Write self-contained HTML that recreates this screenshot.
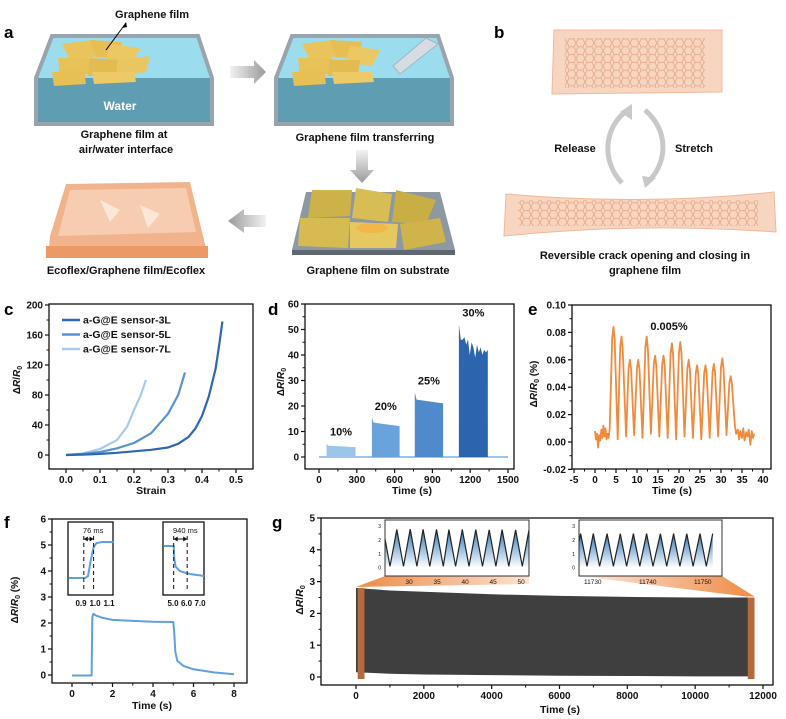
<!DOCTYPE html>
<html><head><meta charset="utf-8">
<style>
html,body{margin:0;padding:0;background:#fff;}
svg{display:block;font-family:"Liberation Sans",Arial,sans-serif;}
.cap{font-size:11px;font-weight:bold;fill:#111;}
.pl{font-size:17px;font-weight:bold;fill:#000;}
</style></head>
<body>
<svg id="fig" width="786" height="719" viewBox="0 0 786 719" xmlns="http://www.w3.org/2000/svg">
<defs>
<pattern id="hex" width="9" height="7.8" patternUnits="userSpaceOnUse">
<path d="M0,3.9 L2.25,0 L6.75,0 L9,3.9 L6.75,7.8 L2.25,7.8 Z" fill="none" stroke="#e2a17c" stroke-width="0.7"/>
</pattern>
<linearGradient id="triFill" x1="0" y1="0" x2="0" y2="1"><stop offset="0" stop-color="#2f78bd"/><stop offset="1" stop-color="#ffffff"/></linearGradient>
<linearGradient id="wedgeL" x1="0" y1="0" x2="1" y2="0"><stop offset="0" stop-color="#ef8a45"/><stop offset="1" stop-color="#fbe3d2"/></linearGradient>
<linearGradient id="wedgeR" x1="0" y1="0" x2="1" y2="0"><stop offset="0" stop-color="#fde9dc"/><stop offset="1" stop-color="#ef8a45"/></linearGradient>
<linearGradient id="arrG" x1="0" y1="0" x2="1" y2="0"><stop offset="0" stop-color="#f2f2f2"/><stop offset="1" stop-color="#9a9a9a"/></linearGradient>
<linearGradient id="arrGL" x1="1" y1="0" x2="0" y2="0"><stop offset="0" stop-color="#f2f2f2"/><stop offset="1" stop-color="#9a9a9a"/></linearGradient>
<linearGradient id="arrGD" x1="0" y1="0" x2="0" y2="1"><stop offset="0" stop-color="#f2f2f2"/><stop offset="1" stop-color="#9a9a9a"/></linearGradient>
<clipPath id="clipIn1"><rect x="385" y="520" width="144" height="56"/></clipPath>
<clipPath id="clipIn2"><rect x="579" y="520" width="143" height="56"/></clipPath>
</defs>

<g>
<text class="pl" x="4" y="38">a</text>
<g>
<polygon points="52,36 198,36 212,78 36,78" fill="#9bdcef"/>
<rect x="36" y="78" width="176" height="46" fill="#5f9db3"/>
<polygon points="52,36 198,36 212,78 212,124 36,124 36,78" fill="none" stroke="#9aa4ad" stroke-width="4"/>
<polygon points="62,44 92,40 100,56 70,60" fill="#e9c45c"/>
<polygon points="90,40 122,42 118,58 96,57" fill="#e6be52"/>
<polygon points="110,44 140,48 132,64 106,60" fill="#ecc862"/>
<polygon points="58,58 92,58 94,74 60,76" fill="#e8c159"/>
<polygon points="90,58 120,60 118,76 88,76" fill="#e3bb50"/>
<polygon points="118,60 150,56 146,72 116,76" fill="#eac662"/>
<polygon points="52,72 84,70 86,84 54,86" fill="#e6bf55"/>
<polygon points="92,72 134,72 136,82 94,84" fill="#edca66"/>
<text x="120" y="110" text-anchor="middle" font-size="12" font-weight="bold" fill="#fff">Water</text>
</g>
<text class="cap" x="152" y="18" text-anchor="middle">Graphene film</text>
<line x1="126" y1="23" x2="106" y2="50" stroke="#000" stroke-width="1"/>
<polygon points="126,22 122,28 127,27" fill="#000"/>
<text class="cap" x="124" y="138" text-anchor="middle">Graphene film at</text>
<text class="cap" x="126" y="153" text-anchor="middle">air/water interface</text>

<polygon points="230,66 254,66 254,60 266,72 254,84 254,78 230,78" fill="url(#arrG)"/>

<g>
<polygon points="292,36 438,36 452,78 276,78" fill="#9bdcef"/>
<rect x="276" y="78" width="176" height="46" fill="#5f9db3"/>
<polygon points="292,36 438,36 452,78 452,124 276,124 276,78" fill="none" stroke="#9aa4ad" stroke-width="4"/>
<polygon points="302,44 332,40 340,56 310,60" fill="#e9c45c"/>
<polygon points="330,40 362,42 358,58 336,57" fill="#e6be52"/>
<polygon points="350,46 380,50 372,66 346,62" fill="#ecc862"/>
<polygon points="298,58 332,58 334,74 300,76" fill="#e8c159"/>
<polygon points="330,60 360,60 358,76 328,76" fill="#e3bb50"/>
<polygon points="292,72 324,70 326,84 294,86" fill="#e6bf55"/>
<polygon points="332,72 372,72 374,82 334,84" fill="#edca66"/>
<polygon points="393,66 426,38 438,44 400,74" fill="#d3dde3" stroke="#a8b4bc" stroke-width="1"/>
</g>
<text class="cap" x="365" y="141" text-anchor="middle">Graphene film transferring</text>

<polygon points="356,150 368,150 368,170 374,170 362,183 350,170 356,170" fill="url(#arrGD)"/>

<g>
<polygon points="306,192 440,192 455,250 292,250" fill="#8e98a3"/>
<rect x="292" y="250" width="163" height="5" fill="#5f6872"/>
<polygon points="312,190 352,190 350,216 308,218" fill="#cdb24a"/>
<polygon points="356,188 392,194 388,222 352,218" fill="#d8bd55"/>
<polygon points="396,190 436,200 426,224 392,222" fill="#c9ad45"/>
<polygon points="300,218 350,218 348,248 298,246" fill="#d6bb52"/>
<polygon points="350,222 398,224 396,248 350,248" fill="#e6c860"/>
<polygon points="400,224 440,218 446,242 404,250" fill="#cfb34b"/>
<ellipse cx="372" cy="228" rx="16" ry="5" fill="#f5b040" opacity="0.7"/>
</g>
<text class="cap" x="378" y="274" text-anchor="middle">Graphene film on substrate</text>

<polygon points="266,215 244,215 244,209 228,221 244,233 244,227 266,227" fill="url(#arrGL)"/>

<g>
<polygon points="66,184 190,182 202,232 208,256 48,258 50,236" fill="#f1b38b"/>
<polygon points="70,190 186,188 196,232 58,236" fill="#f6cdb0"/>
<rect x="46" y="246" width="162" height="12" fill="#eb9a66"/>
<polygon points="100,200 120,210 110,222" fill="#fbe6d8"/>
<polygon points="140,205 160,214 148,228" fill="#fbe6d8"/>
</g>
<text class="cap" x="126" y="274" text-anchor="middle">Ecoflex/Graphene film/Ecoflex</text>
</g>

<g>
<text class="pl" x="494" y="38">b</text>
<polygon points="554,30 722,30 722,92 552,94" fill="#f8d5c1" stroke="#f0b898" stroke-width="1"/>
<rect x="565" y="38" width="140" height="50" fill="url(#hex)"/>
<path d="M622,183 C600,160 605,125 628,110" fill="none" stroke="#c8c8c8" stroke-width="5"/>
<polygon points="620,112 632,104 632,120" fill="#c8c8c8"/>
<path d="M645,110 C668,130 668,160 650,180" fill="none" stroke="#c8c8c8" stroke-width="5"/>
<polygon points="642,176 656,178 645,188" fill="#c8c8c8"/>
<text class="cap" x="575" y="152" text-anchor="middle">Release</text>
<text class="cap" x="694" y="152" text-anchor="middle">Stretch</text>
<path d="M506,194 Q640,206 774,192 L776,232 Q640,222 504,236 Z" fill="#f8d5c1" stroke="#f0b898" stroke-width="1"/>
<rect x="518" y="200" width="240" height="26" fill="url(#hex)"/>
<text class="cap" x="645" y="259" text-anchor="middle">Reversible crack opening and closing in</text>
<text class="cap" x="645" y="274" text-anchor="middle">graphene film</text>
</g>

<text class="pl" x="4" y="315">c</text>
<text class="pl" x="268" y="315">d</text>
<text class="pl" x="528" y="315">e</text>
<text class="pl" x="4" y="528">f</text>
<text class="pl" x="272" y="528">g</text>
<g id="charts"></g>
</svg>

<script>
// panel c
const cStrain3 = [0,0.05,0.1,0.15,0.2,0.25,0.3,0.33,0.36,0.38,0.4,0.42,0.44,0.45,0.46];
const cVal3    = [0,0.5,1.5,3,5,7,10,15,24,35,52,78,115,145,178];
const cStrain5 = [0,0.05,0.1,0.15,0.2,0.25,0.3,0.33,0.35];
const cVal5    = [0,1.5,4,9,16,29,55,80,110];
const cStrain7 = [0,0.05,0.1,0.15,0.18,0.2,0.22,0.235];
const cVal7    = [0,2,8,20,38,60,80,100];
const cLegend  = ["a-G@E sensor-3L","a-G@E sensor-5L","a-G@E sensor-7L"];
const cXTicks  = [0,0.1,0.2,0.3,0.4,0.5];
const cXLabels = ["0.0","0.1","0.2","0.3","0.4","0.5"];
const cYTicks  = [0,40,80,120,160,200];
// panel d
const dLabels  = ["10%","20%","25%","30%"];
const dStart   = [60,420,760,1110];
const dEnd     = [290,640,985,1340];
const dPeak    = [5.2,15.3,25.3,52];
const dPlateau = [4.4,13.5,22.5,46];
const dFinal   = [3.9,12.1,21,42];
const dJag30   = [46,47,44,46,40,45,43,39,44,41,43,40,42,41];
const dXTicks  = [0,300,600,900,1200,1500];
const dYTicks  = [0,10,20,30,40,50,60];
// panel e
const ePeakT   = [4.4,6.3,8.3,10.3,12.3,14.3,16.3,18.3,20.3,22.3,24.3,26.3,28.3,30.3,32.3];
const ePeakV   = [0.084,0.077,0.060,0.060,0.077,0.063,0.063,0.072,0.073,0.060,0.056,0.056,0.057,0.061,0.048];
const eValleyT = [5.4,7.4,9.3,11.3,13.3,15.3,17.3,19.3,21.3,23.3,25.3,27.3,29.3,31.3];
const eValleyV = [0.002,0.004,0.005,0.003,0.006,0.004,0.003,0.002,0.004,0.003,0.002,0.003,0.004,0.005];
const eNoiseBeforeT = [0,0.25,0.5,0.75,1,1.25,1.5,1.75,2,2.25,2.5,2.75,3,3.25,3.5];
const eNoiseBeforeV = [0.008,0.002,0.006,-0.004,0.005,0.001,0.009,0.003,0.012,0.004,0.010,0.002,0.006,0.003,0.010];
const eNoiseAfterT  = [33.3,33.6,34,34.3,34.6,35,35.3,35.6,36,36.3,36.6,37,37.3,37.6,37.9];
const eNoiseAfterV  = [0.012,0.006,0.009,0.002,0.008,0.003,0.010,0.001,0.007,0.004,0.009,-0.002,0.008,0.003,0.006];
const eXTicks = [-5,0,5,10,15,20,25,30,35,40];
const eYTicks = [-0.02,0,0.02,0.04,0.06,0.08,0.10];
const eYLabels = ["-0.02","0.00","0.02","0.04","0.06","0.08","0.10"];
// panel f
const fT = [0,0.97,1.0,1.05,1.2,1.5,2,3,4,5,5.05,5.1,5.2,5.5,6,7,8];
const fV = [-0.02,-0.02,2.2,2.35,2.28,2.2,2.12,2.08,2.05,2.04,1.6,0.9,0.55,0.35,0.22,0.1,0.03];
const fIn1T = [0.81,0.93,0.95,0.97,0.99,1.01,1.05,1.13];
const fIn1V = [0,0,0.05,0.5,0.85,0.97,1,1];
const fIn2T = [4.28,5.05,5.1,5.2,5.5,6,6.5,7,7.3];
const fIn2V = [1,1,0.6,0.35,0.22,0.15,0.11,0.08,0.06];
const fXTicks = [0,2,4,6,8];
const fYTicks = [0,1,2,3,4,5,6];
// panel g
const gTimes  = [0,1000,2000,4000,6000,8000,10000,11750];
const gTop    = [2.8,2.72,2.68,2.6,2.55,2.52,2.5,2.5];
const gBottom = [0.15,0.1,0.08,0.06,0.04,0.03,0.02,0.02];
const gXTicks = [0,2000,4000,6000,8000,10000,12000];
const gYTicks = [0,1,2,3,4,5];
const gIn1PeakT = [27.8,30.2,32.5,34.9,37.1,39.5,41.9,44.3,46.6,49.0];
const gIn1PeakV = [2.75,2.78,2.76,2.75,2.74,2.75,2.74,2.73,2.74,2.73];
const gIn2PeakT = [11727.8,11730.1,11732.6,11735,11737.4,11739.8,11742.3,11744.7,11747.1,11749.5];
const gIn2PeakV = [2.45,2.46,2.45,2.44,2.45,2.45,2.44,2.45,2.44,2.45];
const gIn1Ticks = [30,35,40,45,50];
const gIn2Ticks = [11730,11740,11750];

const NS = 'http://www.w3.org/2000/svg';
const root = document.getElementById('charts');
function mk(tag, attrs, name, parent) {
  const el = document.createElementNS(NS, tag);
  for (const k in attrs) el.setAttribute(k, attrs[k]);
  
  
  (parent || root).appendChild(el);
  return el;
}
function txt(x, y, s, size, anchor, name, parent, extra) {
  const el = mk('text', Object.assign({x: x, y: y, 'font-size': size, 'font-weight': 'bold', 'text-anchor': anchor, fill: '#111'}, extra || {}), name, parent);
  el.textContent = s;
  return el;
}
function lin(d0, d1, p0, p1) { return v => p0 + (v - d0) * (p1 - p0) / (d1 - d0); }
function pts(xs, ys, sx, sy) { return xs.map((t, i) => sx(t).toFixed(1) + ',' + sy(ys[i]).toFixed(1)).join(' '); }
function frame(x0, y0, x1, y1, g, w) {
  mk('rect', {x: x0, y: y0, width: x1 - x0, height: y1 - y0, fill: 'none', stroke: '#111', 'stroke-width': w || 1.3}, 'plot-frame', g);
}
function xAxis(ticks, labels, sx, yb, g, size, minor) {
  ticks.forEach((t, i) => {
    mk('line', {x1: sx(t), x2: sx(t), y1: yb, y2: yb + 4, stroke: '#111', 'stroke-width': 1.2}, 'x-tick', g);
    txt(sx(t), yb + 14, labels[i], size || 10, 'middle', 'x-tick-label', g);
    if (minor && i < ticks.length - 1) {
      const m = (t + ticks[i + 1]) / 2;
      mk('line', {x1: sx(m), x2: sx(m), y1: yb, y2: yb + 2.5, stroke: '#111', 'stroke-width': 1}, 'x-minor-tick', g);
    }
  });
}
function yAxis(ticks, labels, sy, xl, g, size, minor) {
  ticks.forEach((t, i) => {
    mk('line', {x1: xl - 4, x2: xl, y1: sy(t), y2: sy(t), stroke: '#111', 'stroke-width': 1.2}, 'y-tick', g);
    txt(xl - 6, sy(t) + 3.5, labels[i], size || 10, 'end', 'y-tick-label', g);
    if (minor && i < ticks.length - 1) {
      const m = (t + ticks[i + 1]) / 2;
      mk('line', {x1: xl - 2.5, x2: xl, y1: sy(m), y2: sy(m), stroke: '#111', 'stroke-width': 1}, 'y-minor-tick', g);
    }
  });
}
function yTitle(x, y, pct, g, size) {
  const el = mk('text', {x: 0, y: 0, transform: 'translate(' + x + ',' + y + ') rotate(-90)', 'font-size': size || 10, 'font-weight': 'bold', 'text-anchor': 'middle', fill: '#111'}, 'y-axis-title', g);
  el.innerHTML = 'Δ<tspan font-style="italic">R</tspan>/<tspan font-style="italic">R</tspan><tspan font-size="7" dy="2">0</tspan>' + (pct ? '<tspan dy="-2"> (%)</tspan>' : '');
  return el;
}
function dblArrow(x1, x2, y, g) {
  mk('line', {x1: x1 + 3, x2: x2 - 3, y1: y, y2: y, stroke: '#111', 'stroke-width': 1}, 'interval-arrow', g);
  mk('polygon', {points: x1 + ',' + y + ' ' + (x1 + 4) + ',' + (y - 2.5) + ' ' + (x1 + 4) + ',' + (y + 2.5), fill: '#111'}, 'arrowhead', g);
  mk('polygon', {points: x2 + ',' + y + ' ' + (x2 - 4) + ',' + (y - 2.5) + ' ' + (x2 - 4) + ',' + (y + 2.5), fill: '#111'}, 'arrowhead', g);
}

// panel c
(function () {
  const g = mk('g', {}, 'chart-c');
  const sx = lin(0, 0.5, 66, 236), sy = lin(0, 200, 455, 305);
  frame(49, 304, 253, 469, g);
  xAxis(cXTicks, cXLabels, sx, 469, g, 10, true);
  yAxis(cYTicks, cYTicks.map(String), sy, 49, g, 10, true);
  txt(151, 494, 'Strain', 10.5, 'middle', 'x-axis-title', g);
  yTitle(20, 380, false, g);
  const cols = ['#2d68b4', '#5893cf', '#a7cbea'];
  [[cStrain7, cVal7, 2], [cStrain5, cVal5, 1], [cStrain3, cVal3, 0]].forEach(s => {
    mk('polyline', {points: pts(s[0], s[1], sx, sy), fill: 'none', stroke: cols[s[2]], 'stroke-width': 2.2, 'stroke-linejoin': 'round'}, 'series-' + ['3L', '5L', '7L'][s[2]], g);
  });
  cLegend.forEach((l, i) => {
    const y = 320 + i * 14.5;
    mk('line', {x1: 62, x2: 80, y1: y, y2: y, stroke: cols[i], 'stroke-width': 2.5}, 'legend-swatch', g);
    txt(83, y + 3.5, l, 10.5, 'start', 'legend-entry', g);
  });
})();

// panel d
(function () {
  const g = mk('g', {}, 'chart-d');
  const sx = lin(0, 1500, 319, 508), sy = lin(0, 60, 457, 304);
  frame(305, 304, 514, 469, g);
  xAxis(dXTicks, dXTicks.map(String), sx, 469, g, 10, true);
  yAxis(dYTicks, dYTicks.map(String), sy, 305, g, 10, true);
  txt(412, 494, 'Time (s)', 10.5, 'middle', 'x-axis-title', g);
  yTitle(284, 382, false, g);
  mk('line', {x1: sx(0), x2: sx(1500), y1: sy(0), y2: sy(0), stroke: '#9cc5ea', 'stroke-width': 2}, 'baseline', g);
  const cols = ['#9cc5ea', '#6aa3db', '#4f8acb', '#2c64ad'];
  dStart.forEach((s, i) => {
    const e = dEnd[i];
    let top = [[s, dPeak[i]], [s + 15, dPlateau[i]]];
    if (i === 3) {
      dJag30.forEach((v, k) => { top.push([s + 15 + (k + 1) * (e - s - 15) / (dJag30.length + 1), v]); });
    }
    top.push([e, dFinal[i]]);
    let p = sx(s) + ',' + sy(0) + ' ' + top.map(q => sx(q[0]).toFixed(1) + ',' + sy(q[1]).toFixed(1)).join(' ') + ' ' + sx(e) + ',' + sy(0);
    mk('polygon', {points: p, fill: cols[i]}, 'block-' + dLabels[i], g);
    const lx = (sx(s) + sx(e)) / 2;
    txt(lx, sy(dPeak[i]) - 8, dLabels[i], 11, 'middle', 'strain-label', g);
  });
})();

// panel e
(function () {
  const g = mk('g', {}, 'chart-e');
  const sx = lin(-5, 40, 574, 763), sy = lin(0, 0.1, 442, 305);
  frame(572, 305, 771, 469, g);
  xAxis(eXTicks, eXTicks.map(String), sx, 469, g, 10, true);
  yAxis(eYTicks, eYLabels, sy, 572, g, 10, true);
  txt(672, 494, 'Time (s)', 10.5, 'middle', 'x-axis-title', g);
  yTitle(537, 384, true, g);
  let T = eNoiseBeforeT.slice(), V = eNoiseBeforeV.slice();
  ePeakT.forEach((t, i) => {
    T.push(t - 0.3); V.push(ePeakV[i] * 0.9);
    T.push(t); V.push(ePeakV[i]);
    T.push(t + 0.3); V.push(ePeakV[i] * 0.88);
    if (i < eValleyT.length) { T.push(eValleyT[i]); V.push(eValleyV[i]); }
  });
  eNoiseAfterT.forEach((t, i) => { T.push(t); V.push(eNoiseAfterV[i]); });
  mk('polyline', {points: pts(T, V, sx, sy), fill: 'none', stroke: '#f08a3c', 'stroke-width': 1.8, 'stroke-linejoin': 'round'}, 'response-line', g);
  txt(669, 330, '0.005%', 11, 'middle', 'strain-label', g);
})();

// panel f
(function () {
  const g = mk('g', {}, 'chart-f');
  const sx = lin(0, 8, 72, 234), sy = lin(0, 6, 675, 519);
  frame(52, 519, 247, 683, g);
  xAxis(fXTicks, fXTicks.map(String), sx, 683, g, 10, true);
  yAxis(fYTicks, fYTicks.map(String), sy, 52, g, 10, true);
  txt(152, 709, 'Time (s)', 10.5, 'middle', 'x-axis-title', g);
  yTitle(18, 600, true, g);
  mk('polyline', {points: pts(fT, fV, sx, sy), fill: 'none', stroke: '#5fa0de', 'stroke-width': 2, 'stroke-linejoin': 'round'}, 'response-line', g);
  const i1 = mk('g', {}, 'inset-rise', g);
  const ax = lin(0.9, 1.1, 81, 109), ay = lin(0, 1, 578, 542);
  mk('rect', {x: 68, y: 522, width: 45, height: 73, fill: '#fff', stroke: '#111', 'stroke-width': 1.3}, 'inset-frame', i1);
  mk('polyline', {points: pts(fIn1T, fIn1V, ax, ay), fill: 'none', stroke: '#5fa0de', 'stroke-width': 2}, 'inset-line', i1);
  [0.92, 0.99].forEach(t => mk('line', {x1: ax(t), x2: ax(t), y1: 536, y2: 592, stroke: '#111', 'stroke-width': 1, 'stroke-dasharray': '4,3'}, 'dashed-marker', i1));
  dblArrow(ax(0.92), ax(0.99), 539, i1);
  txt(83, 533, '76 ms', 7.5, 'start', 'response-time-label', i1, {'font-weight': 'normal'});
  [0.9, 1.0, 1.1].forEach(t => txt(ax(t), 606, t.toFixed(1), 8, 'middle', 'inset-tick-label', i1));
  const i2 = mk('g', {}, 'inset-recovery', g);
  const bx = lin(5, 7, 173, 200), by = lin(0, 1, 578, 546);
  mk('rect', {x: 163, y: 522, width: 41, height: 73, fill: '#fff', stroke: '#111', 'stroke-width': 1.3}, 'inset-frame', i2);
  mk('polyline', {points: pts(fIn2T, fIn2V, bx, by), fill: 'none', stroke: '#5fa0de', 'stroke-width': 2}, 'inset-line', i2);
  [5.05, 6.05].forEach(t => mk('line', {x1: bx(t), x2: bx(t), y1: 536, y2: 592, stroke: '#111', 'stroke-width': 1, 'stroke-dasharray': '4,3'}, 'dashed-marker', i2));
  dblArrow(bx(5.05), bx(6.05), 539, i2);
  txt(173, 533, '940 ms', 7.5, 'start', 'recovery-time-label', i2, {'font-weight': 'normal'});
  [5, 6, 7].forEach(t => txt(bx(t), 606, t.toFixed(1), 8, 'middle', 'inset-tick-label', i2));
})();

// panel g
(function () {
  const g = mk('g', {}, 'chart-g');
  const sx = lin(0, 12000, 356, 763), sy = lin(0, 5, 677, 518);
  frame(321, 518, 773, 685, g);
  xAxis(gXTicks, gXTicks.map(String), sx, 685, g, 10, true);
  yAxis(gYTicks, gYTicks.map(String), sy, 321, g, 10, true);
  txt(560, 713, 'Time (s)', 10.5, 'middle', 'x-axis-title', g);
  yTitle(303, 600, false, g, 10.5);
  const band = pts(gTimes, gTop, sx, sy) + ' ' + pts(gTimes.slice().reverse(), gBottom.slice().reverse(), sx, sy);
  mk('polygon', {points: band, fill: '#3f3f3f'}, 'cycling-band', g);
  mk('rect', {x: sx(50), y: sy(2.8), width: sx(250) - sx(50), height: sy(0) - sy(2.8) + 2, fill: '#b46a3c'}, 'highlight-start', g);
  mk('rect', {x: sx(11550), y: sy(2.5), width: sx(11750) - sx(11550), height: sy(0) - sy(2.5) + 2, fill: '#b46a3c'}, 'highlight-end', g);
  mk('polygon', {points: sx(0) + ',' + (sy(2.8) - 1) + ' 385,576 529,576 529,584', fill: 'url(#wedgeL)'}, 'zoom-wedge-start', g);
  mk('polygon', {points: '579,576 722,576 ' + sx(11750) + ',' + (sy(2.5) - 1) + ' ' + sx(11500) + ',' + (sy(2.5) - 1), fill: 'url(#wedgeR)'}, 'zoom-wedge-end', g);
  function inset(x0, x1, d0, d1, peaksT, peaksV, ticks, name, clip) {
    const ig = mk('g', {}, name, g);
    const ix = lin(d0, d1, x0, x1), iy = lin(0, 3, 567.7, 526);
    mk('rect', {x: x0, y: 520, width: x1 - x0, height: 56, fill: '#fff', stroke: '#333', 'stroke-width': 1}, 'inset-frame', ig);
    const half = (peaksT[1] - peaksT[0]) / 2;
    const T = [peaksT[0] - 2 * half], V = [peaksV[0]];
    T.push(peaksT[0] - half); V.push(0.1);
    peaksT.forEach((t, i) => { T.push(t); V.push(peaksV[i]); T.push(t + half); V.push(0.1); });
    T.push(peaksT[peaksT.length - 1] + 2 * half); V.push(peaksV[peaksV.length - 1]);
    const p = pts(T, V, ix, iy);
    const cg = mk('g', {'clip-path': 'url(#' + clip + ')'}, 'inset-plot', ig);
    mk('polygon', {points: ix(T[0]) + ',' + iy(0) + ' ' + p + ' ' + ix(T[T.length - 1]) + ',' + iy(0), fill: 'url(#triFill)'}, 'inset-fill', cg);
    mk('polyline', {points: p, fill: 'none', stroke: '#222', 'stroke-width': 1.2}, 'inset-line', cg);
    mk('rect', {x: x0, y: 520, width: x1 - x0, height: 56, fill: 'none', stroke: '#333', 'stroke-width': 1}, 'inset-border', ig);
    ticks.forEach(t => txt(ix(t), 584, String(t), 6.5, 'middle', 'inset-tick-label', ig, {'font-weight': 'normal'}));
    [0, 1, 2, 3].forEach(v => txt(x0 - 4, iy(v) + 2, String(v), 5, 'end', 'inset-y-label', ig, {'font-weight': 'normal'}));
  }
  inset(385, 529, 25.7, 51.4, gIn1PeakT, gIn1PeakV, gIn1Ticks, 'inset-start-cycles', 'clipIn1');
  inset(579, 722, 11727.5, 11753.5, gIn2PeakT, gIn2PeakV, gIn2Ticks, 'inset-end-cycles', 'clipIn2');
})();
</script>
</body></html>
